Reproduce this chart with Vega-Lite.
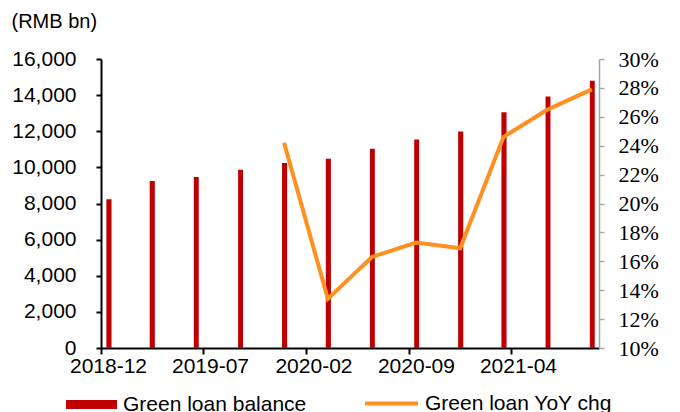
{
  "$schema": "https://vega.github.io/schema/vega-lite/v6.json",
  "width": 498,
  "height": 289,
  "autosize": "none",
  "padding": {"left": 101, "top": 59, "right": 81, "bottom": 64},
  "background": "white",
  "config": {
    "view": {"stroke": null},
    "font": "Liberation Sans"
  },
  "data": {
    "values": [
      {"date": "2018-12-01", "balance": 8230, "yoy": null},
      {"date": "2019-03-01", "balance": 9250, "yoy": null},
      {"date": "2019-06-01", "balance": 9470, "yoy": null},
      {"date": "2019-09-01", "balance": 9870, "yoy": null},
      {"date": "2019-12-01", "balance": 10240, "yoy": 24.2},
      {"date": "2020-03-01", "balance": 10480, "yoy": 13.4},
      {"date": "2020-06-01", "balance": 11030, "yoy": 16.3},
      {"date": "2020-09-01", "balance": 11550, "yoy": 17.3},
      {"date": "2020-12-01", "balance": 11990, "yoy": 16.9},
      {"date": "2021-03-01", "balance": 13050, "yoy": 24.6},
      {"date": "2021-06-01", "balance": 13920, "yoy": 26.5},
      {"date": "2021-09-01", "balance": 14790, "yoy": 27.9}
    ]
  },
  "encoding": {
    "x": {
      "field": "date",
      "type": "temporal",
      "timeUnit": "utcyearmonth",
      "scale": {
        "type": "utc",
        "domain": [
          {"year": 2018, "month": 12, "date": 1, "utc": true},
          {"year": 2021, "month": 10, "date": 1, "utc": true}
        ]
      },
      "axis": {
        "title": null,
        "values": [
          {"year": 2018, "month": 12, "date": 1, "utc": true},
          {"year": 2019, "month": 7, "date": 1, "utc": true},
          {"year": 2020, "month": 2, "date": 1, "utc": true},
          {"year": 2020, "month": 9, "date": 1, "utc": true},
          {"year": 2021, "month": 4, "date": 1, "utc": true}
        ],
        "labelExpr": "utcFormat(datum.value, '%Y-%m')",
        "labelOffset": 7,
        "labelFont": "Liberation Sans",
        "labelFontSize": 21,
        "labelColor": "#000000",
        "labelPadding": 1,
        "labelFlush": false,
        "labelOverlap": false,
        "domainColor": "#000000",
        "domainWidth": 2,
        "tickColor": "#000000",
        "tickWidth": 2,
        "tickSize": 6,
        "grid": false
      }
    }
  },
  "layer": [
    {
      "mark": {"type": "bar", "color": "#C00000", "width": {"band": 0.41}},
      "encoding": {
        "y": {
          "field": "balance",
          "type": "quantitative",
          "scale": {"domain": [0, 16000]},
          "axis": {
            "title": "(RMB bn)",
            "titleAngle": 0,
            "titleAlign": "left",
            "titleBaseline": "alphabetic",
            "titleX": -90,
            "titleY": -32,
            "titleFont": "Liberation Sans",
            "titleFontSize": 20,
            "titleFontWeight": "normal",
            "titleColor": "#000000",
            "values": [0, 2000, 4000, 6000, 8000, 10000, 12000, 14000, 16000],
            "format": ",.0f",
            "labelFont": "Liberation Sans",
            "labelFontSize": 21,
            "labelColor": "#000000",
            "labelPadding": 20,
            "labelFlush": false,
            "labelOverlap": false,
            "domainColor": "#000000",
            "domainWidth": 2,
            "tickColor": "#000000",
            "tickWidth": 2,
            "tickSize": 5,
            "grid": false
          }
        },
        "color": {
          "datum": "Green loan balance",
          "type": "nominal",
          "scale": {"range": ["#C00000"]},
          "legend": {
            "title": null,
            "orient": "none",
            "legendX": -35,
            "legendY": 320,
            "padding": 0,
            "symbolType": "M-1,-0.18H1V0.18H-1Z",
            "symbolSize": 2601,
            "symbolStrokeWidth": 0,
            "symbolOpacity": 1,
            "labelOffset": 6,
            "labelFont": "Liberation Sans",
            "labelFontSize": 21,
            "labelColor": "#000000",
            "labelLimit": 300
          }
        }
      }
    },
    {
      "transform": [{"filter": "isValid(datum.yoy)"}],
      "mark": {"type": "line", "color": "#FF9020", "strokeWidth": 4},
      "encoding": {
        "x": {
          "field": "date",
          "type": "temporal",
          "timeUnit": "utcyearmonth",
          "bandPosition": 0.5
        },
        "y": {
          "field": "yoy",
          "type": "quantitative",
          "scale": {"domain": [10, 30]},
          "axis": {
            "orient": "right",
            "title": null,
            "values": [10, 12, 14, 16, 18, 20, 22, 24, 26, 28, 30],
            "labelExpr": "datum.value + '%'",
            "labelFont": "Liberation Serif",
            "labelFontSize": 22,
            "labelColor": "#000000",
            "labelPadding": 14,
            "labelFlush": false,
            "labelOverlap": false,
            "domainColor": "#A6A6A6",
            "domainWidth": 1.5,
            "tickColor": "#A6A6A6",
            "tickWidth": 1.5,
            "tickSize": 5,
            "grid": false
          }
        },
        "color": {
          "datum": "Green loan YoY chg",
          "type": "nominal",
          "scale": {"range": ["#FF9020"]},
          "legend": {
            "title": null,
            "orient": "none",
            "legendX": 262,
            "legendY": 316,
            "padding": 0,
            "symbolType": "stroke",
            "symbolSize": 2809,
            "symbolStrokeWidth": 4,
            "symbolOpacity": 1,
            "labelOffset": 5,
            "labelFont": "Liberation Sans",
            "labelFontSize": 21,
            "labelColor": "#000000",
            "labelLimit": 300
          }
        }
      }
    }
  ],
  "resolve": {"scale": {"y": "independent", "color": "independent"}}
}
